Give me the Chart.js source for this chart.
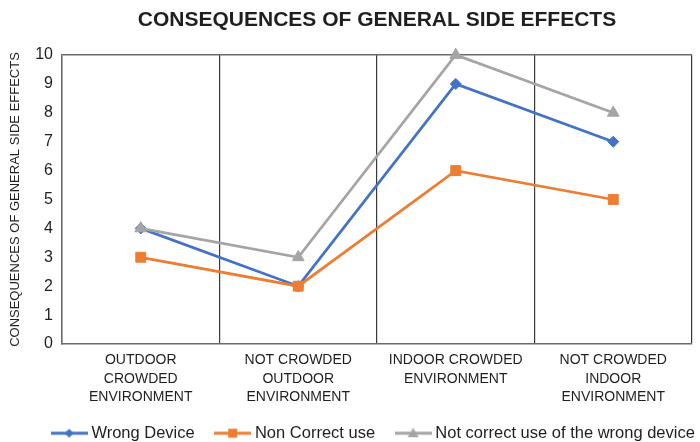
<!DOCTYPE html>
<html>
<head>
<meta charset="utf-8">
<script src="https://cdn.jsdelivr.net/npm/chart.js@4"></script>
<style>
  html, body { margin: 0; padding: 0; background: #ffffff; }
  #wrap { width: 700px; height: 442px; position: relative; }
</style>
</head>
<body>
<div id="wrap"><canvas id="c" width="700" height="442"></canvas></div>
<script>
const chartTitle = "CONSEQUENCES OF GENERAL SIDE EFFECTS";
const yAxisTitle = "CONSEQUENCES OF GENERAL SIDE EFFECTS";
const categories = [
  ["OUTDOOR", "CROWDED", "ENVIRONMENT"],
  ["NOT CROWDED", "OUTDOOR", "ENVIRONMENT"],
  ["INDOOR CROWDED", "ENVIRONMENT"],
  ["NOT CROWDED", "INDOOR", "ENVIRONMENT"]
];
const seriesNames = ["Wrong Device", "Non Correct use", "Not correct use of the wrong device"];
const wrongDevice = [4, 2, 9, 7];
const nonCorrectUse = [3, 2, 6, 5];
const notCorrectUseWrongDevice = [4, 3, 10, 8];
const yMin = 0, yMax = 10, yStep = 1;

const FONT = "'Liberation Sans', Arial, Helvetica, sans-serif";
const TEXT = '#1f1f1f';
const FRAME = '#6b6b6b';
const INNER = '#3a3a3a';
const BLUE = '#4472C4', ORANGE = '#ED7D31', GRAY = '#A5A5A5';

function legendIcon(color, shape) {
  const W = 37, H = 14;
  const cv = document.createElement('canvas');
  cv.width = W; cv.height = H;
  const g = cv.getContext('2d');
  const cy = H / 2, cx = W / 2;
  g.strokeStyle = color; g.lineWidth = 3;
  g.beginPath(); g.moveTo(0, cy); g.lineTo(W, cy); g.stroke();
  g.fillStyle = color;
  g.beginPath();
  if (shape === 'diamond') {
    const s = 4.5;
    g.moveTo(cx, cy - s); g.lineTo(cx + s, cy); g.lineTo(cx, cy + s); g.lineTo(cx - s, cy);
  } else if (shape === 'square') {
    g.rect(cx - 4.5, cy - 4.5, 9, 9);
  } else {
    g.moveTo(cx, cy - 5.5); g.lineTo(cx + 5.5, cy + 4); g.lineTo(cx - 5.5, cy + 4);
  }
  g.closePath(); g.fill();
  return cv;
}
const icons = [legendIcon(BLUE, 'diamond'), legendIcon(ORANGE, 'square'), legendIcon(GRAY, 'triangle')];

// shift the legend block to sit under the plot like the reference
const legendShift = {
  id: 'legendShift',
  afterLayout(chart) {
    const L = chart.legend;
    if (!L) return;
    const dx = 29, dy = -7;
    L.left += dx; L.right += dx; L.top += dy; L.bottom += dy;
  }
};

new Chart(document.getElementById('c'), {
  type: 'line',
  data: {
    labels: categories,
    datasets: [
      { label: seriesNames[0], data: wrongDevice, borderColor: BLUE, backgroundColor: BLUE,
        borderWidth: 2.75, pointStyle: 'rectRot', pointRadius: 5.5, pointBorderWidth: 1,
        pointHoverRadius: 5.5, order: 3, clip: false, tension: 0 },
      { label: seriesNames[1], data: nonCorrectUse, borderColor: ORANGE, backgroundColor: ORANGE,
        borderWidth: 2.75, pointStyle: 'rect', pointRadius: 7, pointBorderWidth: 1,
        pointHoverRadius: 7, order: 2, clip: false, tension: 0 },
      { label: seriesNames[2], data: notCorrectUseWrongDevice, borderColor: GRAY, backgroundColor: GRAY,
        borderWidth: 2.75, pointStyle: 'triangle', pointRadius: 6.8, pointBorderWidth: 1,
        pointHoverRadius: 6.8, order: 1, clip: false, tension: 0 }
    ]
  },
  plugins: [legendShift],
  options: {
    responsive: false,
    animation: false,
    events: [],
    layout: { padding: { left: 0, right: 8, top: 0, bottom: -16.5 } },
    plugins: {
      title: {
        display: true, text: chartTitle, fullSize: false, color: TEXT,
        font: { family: FONT, size: 21, weight: 'bold', lineHeight: 1.2 },
        padding: { top: 7.4, bottom: 22.4 }
      },
      legend: {
        display: true, position: 'bottom', fullSize: true,
        labels: {
          color: TEXT, usePointStyle: true, pointStyleWidth: 28, padding: 24,
          font: { family: FONT, size: 16.5 },
          sort: (a, b) => a.datasetIndex - b.datasetIndex,
          generateLabels: (chart) => chart.data.datasets.map((ds, i) => ({
            text: ds.label, datasetIndex: i, pointStyle: icons[i],
            fillStyle: ds.borderColor, strokeStyle: ds.borderColor, lineWidth: 0,
            fontColor: TEXT, hidden: false
          }))
        }
      },
      tooltip: { enabled: false }
    },
    scales: {
      x: {
        type: 'category', offset: true,
        grid: {
          display: true, offset: true, drawTicks: false, lineWidth: 1.2,
          color: (c) => (c.index === 0 || c.index === categories.length) ? FRAME : INNER
        },
        border: { display: true, color: FRAME, width: 1.5 },
        ticks: { color: TEXT, padding: 7, maxRotation: 0, autoSkip: false,
          font: { family: FONT, size: 14, lineHeight: 1.32 } },
        afterFit: (s) => { s.height = 64; }
      },
      y: {
        min: yMin, max: yMax,
        grid: {
          display: true, drawTicks: false, lineWidth: 1.5,
          color: (c) => (c.tick && c.tick.value === yMax) ? FRAME : 'rgba(0,0,0,0)'
        },
        border: { display: true, color: FRAME, width: 1.5 },
        ticks: { stepSize: yStep, color: TEXT, padding: 9,
          font: { family: FONT, size: 16 } },
        title: { display: true, text: yAxisTitle, color: TEXT,
          font: { family: FONT, size: 13, lineHeight: 1.2 },
          padding: { top: 7.2, bottom: 0 } },
        afterFit: (s) => { s.width = 62; }
      }
    }
  }
});
</script>
</body>
</html>
